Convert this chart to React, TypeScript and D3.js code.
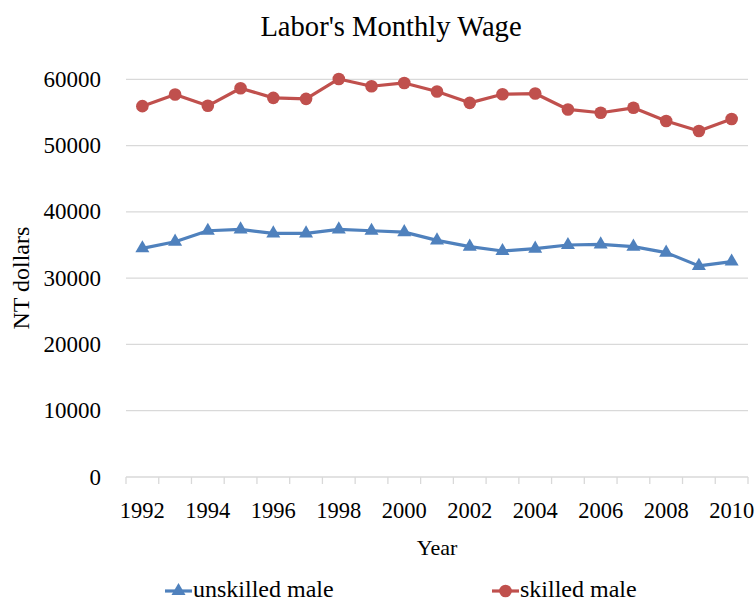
import React, { useEffect, useRef } from 'react';
import * as d3 from 'd3';

const years = [1992, 1993, 1994, 1995, 1996, 1997, 1998, 1999, 2000, 2001, 2002, 2003, 2004, 2005, 2006, 2007, 2008, 2009, 2010];
const unskilledMale = [34500, 35500, 37150, 37350, 36750, 36750, 37350, 37150, 36950, 35700, 34750, 34100, 34450, 35000, 35100, 34750, 33850, 31850, 32500];
const skilledMale = [55950, 57700, 56000, 58650, 57200, 57050, 60050, 58950, 59450, 58150, 56450, 57750, 57850, 55450, 54950, 55700, 53700, 52200, 54000];
const yTicks = [0, 10000, 20000, 30000, 40000, 50000, 60000];
const xLabels = [1992, 1994, 1996, 1998, 2000, 2002, 2004, 2006, 2008, 2010];

const BLUE = '#4F81BD';
const RED = '#C0504D';
const GRID = '#D9D9D9';
const FONT = '"Liberation Serif", "Times New Roman", serif';

const App: React.FC = () => {
  const ref = useRef<SVGSVGElement>(null);

  useEffect(() => {
    if (!ref.current) return;
    const svg = d3.select(ref.current);
    svg.selectAll('*').remove();

    const left = 126;
    const right = 748;
    const top = 79.3;
    const bottom = 477;

    const x = d3.scaleBand<number>().domain(years).range([left, right]);
    const y = d3.scaleLinear().domain([0, 60000]).range([bottom, top]);
    const cx = (yr: number) => (x(yr) as number) + x.bandwidth() / 2;

    // title
    svg.append('text')
      .attr('x', 391)
      .attr('y', 36)
      .attr('text-anchor', 'middle')
      .style('font-family', FONT)
      .style('font-size', '28.6px')
      .attr('fill', '#000')
      .text("Labor's Monthly Wage");

    // gridlines
    svg.append('g')
      .selectAll('line')
      .data(yTicks.filter(d => d > 0))
      .enter()
      .append('line')
      .attr('x1', left)
      .attr('x2', right)
      .attr('y1', d => y(d))
      .attr('y2', d => y(d))
      .attr('stroke', GRID)
      .attr('stroke-width', 1.3);

    // y tick labels
    svg.append('g')
      .selectAll('text')
      .data(yTicks)
      .enter()
      .append('text')
      .attr('x', 101)
      .attr('y', d => y(d))
      .attr('dy', '0.33em')
      .attr('text-anchor', 'end')
      .style('font-family', FONT)
      .style('font-size', '23px')
      .text(d => String(d));

    // x axis line + ticks at category boundaries
    const xAxis = svg.append('g');
    xAxis.append('line')
      .attr('x1', left)
      .attr('x2', right)
      .attr('y1', bottom)
      .attr('y2', bottom)
      .attr('stroke', GRID)
      .attr('stroke-width', 1.3);
    const boundaries = years.map(d => x(d) as number).concat([right]);
    xAxis.selectAll('.tick')
      .data(boundaries)
      .enter()
      .append('line')
      .attr('class', 'tick')
      .attr('x1', d => d)
      .attr('x2', d => d)
      .attr('y1', bottom)
      .attr('y2', bottom + 7)
      .attr('stroke', GRID)
      .attr('stroke-width', 1.3);
    xAxis.selectAll('.lbl')
      .data(xLabels)
      .enter()
      .append('text')
      .attr('class', 'lbl')
      .attr('x', d => cx(d))
      .attr('y', 518)
      .attr('text-anchor', 'middle')
      .style('font-family', FONT)
      .style('font-size', '22.5px')
      .text(d => String(d));

    // axis titles
    svg.append('text')
      .attr('x', 437)
      .attr('y', 555)
      .attr('text-anchor', 'middle')
      .style('font-family', FONT)
      .style('font-size', '22px')
      .text('Year');

    svg.append('text')
      .attr('transform', `translate(29,${(top + bottom) / 2}) rotate(-90)`)
      .attr('text-anchor', 'middle')
      .style('font-family', FONT)
      .style('font-size', '24px')
      .text('NT dollars');

    const line = d3.line<number>()
      .x((_, i) => cx(years[i]))
      .y(d => y(d));

    // unskilled series
    svg.append('path')
      .datum(unskilledMale)
      .attr('d', line)
      .attr('fill', 'none')
      .attr('stroke', BLUE)
      .attr('stroke-width', 3.2)
      .attr('stroke-linejoin', 'round');
    const tri = d3.symbol().type(d3.symbolTriangle).size(85);
    svg.append('g')
      .selectAll('path')
      .data(unskilledMale)
      .enter()
      .append('path')
      .attr('d', tri)
      .attr('transform', (d, i) => `translate(${cx(years[i])},${y(d)})`)
      .attr('fill', BLUE);

    // skilled series
    svg.append('path')
      .datum(skilledMale)
      .attr('d', line)
      .attr('fill', 'none')
      .attr('stroke', RED)
      .attr('stroke-width', 3.2)
      .attr('stroke-linejoin', 'round');
    svg.append('g')
      .selectAll('circle')
      .data(skilledMale)
      .enter()
      .append('circle')
      .attr('cx', (_, i) => cx(years[i]))
      .attr('cy', d => y(d))
      .attr('r', 6.3)
      .attr('fill', RED);

    // legend
    const legend = [
      { name: 'unskilled male', color: BLUE, x: 165, shape: 'tri' },
      { name: 'skilled male', color: RED, x: 492, shape: 'circle' },
    ];
    legend.forEach(l => {
      const g = svg.append('g').attr('transform', `translate(${l.x},591)`);
      g.append('line')
        .attr('x1', 0)
        .attr('x2', 27)
        .attr('stroke', l.color)
        .attr('stroke-width', 3.2);
      if (l.shape === 'tri') {
        g.append('path').attr('d', tri).attr('transform', 'translate(13.5,0)').attr('fill', l.color);
      } else {
        g.append('circle').attr('cx', 13.5).attr('r', 6.3).attr('fill', l.color);
      }
      g.append('text')
        .attr('x', 28)
        .attr('y', 6)
        .style('font-family', FONT)
        .style('font-size', '24px')
        .text(l.name);
    });
  }, []);

  return (
    <svg
      ref={ref}
      width={756}
      height={604}
      style={{ position: 'absolute', left: 0, top: 0, background: '#fff' }}
    />
  );
};

export default App;
